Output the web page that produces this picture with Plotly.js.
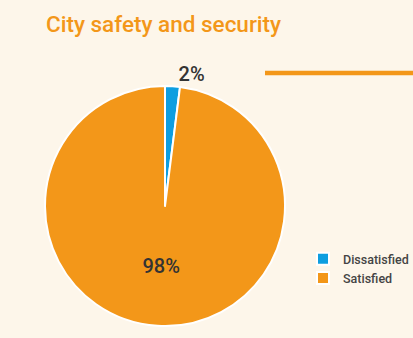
<!DOCTYPE html>
<html><head><meta charset="utf-8">
<script src="https://cdn.plot.ly/plotly-3.0.1.min.js"></script>
<style>html,body{margin:0;padding:0;background:#fdf6ea;}</style>
</head><body><div id="chart" style="width:413px;height:338px;"></div>
<script>
const categories = ["Dissatisfied", "Satisfied"];
const values = [2, 98];
const colors = ["#0d9ee0", "#f39719"];

const labelFont = {family: "Roboto, sans-serif", size: 20, color: "#333333", weight: 500};

const trace = {
  type: "pie",
  labels: categories,
  values: values,
  sort: false,
  direction: "clockwise",
  rotation: 0,
  marker: {colors: colors, line: {color: "#ffffff", width: 2}},
  texttemplate: "%{percent:.0%}",
  textposition: ["outside", "inside"],
  textfont: labelFont,
  outsidetextfont: labelFont,
  insidetextfont: labelFont,
  hoverinfo: "none",
  domain: {x: [45/413, 285/413], y: [12/338, 252/338]}
};

const layout = {
  width: 413, height: 338,
  margin: {l: 0, r: 0, t: 0, b: 0, autoexpand: false},
  paper_bgcolor: "#fdf6ea",
  plot_bgcolor: "#fdf6ea",
  title: {text: "City safety and security", x: 46/413, xanchor: "left", y: 1 - 24/338, yanchor: "middle",
          font: {family: "Roboto, sans-serif", size: 22.5, color: "#f39719", weight: 500}},
  showlegend: true,
  legend: {x: 303/413, xanchor: "left", y: 1 - 244/338, yanchor: "top",
           font: {family: "Roboto, sans-serif", size: 12.5, color: "#444444", weight: 500},
           itemwidth: 30, tracegroupgap: 0, bgcolor: "rgba(0,0,0,0)"},
  shapes: [{type: "line", xref: "paper", yref: "paper", x0: 265/413, x1: 1.01, y0: 1 - 73/338, y1: 1 - 73/338,
            line: {color: "#f39719", width: 4.5}}]
};

Plotly.newPlot("chart", [trace], layout, {displayModeBar: false, staticPlot: true});
</script></body></html>
